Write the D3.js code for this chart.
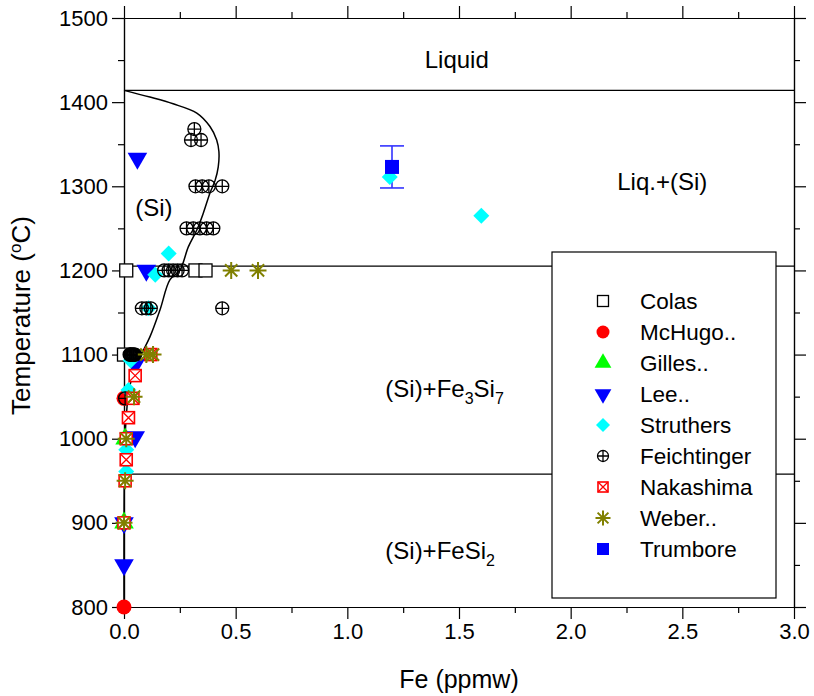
<!DOCTYPE html>
<html>
  <head>
    <meta charset="utf-8">
    <script type="text/javascript" src="https://d3js.org/d3.v7.min.js"></script>
    <title></title>
  </head>
  <style media="screen">
    body { margin: 0; background: #fff; }
    text { font-family: "Liberation Sans", Arial, sans-serif; fill: #000; }
  </style>
  <body>

    <script type="text/javascript">

    // Fe solubility in Si, measured points per source (Fe in ppmw, T in deg C)
    var colasFe = [0.01, 0.32, 0.365, 0.0];
    var colasT  = [1200, 1200, 1200, 1100];

    var mchugoFe = [0.0, 0.0];
    var mchugoT  = [800, 1048];

    var gillesFe = [0.0, 0.005];
    var gillesT  = [900, 1000];

    var leeFe = [0.06, 0.1, 0.05, 0.05, 0.0, 0.0];
    var leeT  = [1333, 1200, 1088, 1002, 900, 850];

    var struthersFe = [0.2, 0.14, 0.11, 0.03, 0.02, 0.01, 0.01, 1.19, 1.6];
    var struthersT  = [1220, 1195, 1155, 1093, 1058, 987, 961, 1311, 1265];

    var feichtFe = [0.315, 0.30, 0.345,
                    0.32, 0.35, 0.38, 0.44,
                    0.28, 0.31, 0.34, 0.37, 0.40,
                    0.18, 0.20, 0.22, 0.24, 0.26,
                    0.08, 0.10, 0.12, 0.44,
                    0.025, 0.028, 0.031, 0.034, 0.037, 0.04, 0.043, 0.046, 0.05,
                    0.005];
    var feichtT  = [1368, 1355, 1355,
                    1300, 1300, 1300, 1300,
                    1250, 1250, 1250, 1250, 1250,
                    1200, 1200, 1200, 1200, 1200,
                    1155, 1155, 1155, 1155,
                    1100, 1100, 1100, 1100, 1100, 1100, 1100, 1100, 1100,
                    1048];

    var nakashimaFe = [0.12, 0.05, 0.04, 0.02, 0.01, 0.01, 0.005, 0.0];
    var nakashimaT  = [1100, 1075, 1048, 1025, 1000, 975, 950, 900];

    var weberFe = [0.1, 0.13, 0.045, 0.48, 0.6, 0.01, 0.005, 0.0];
    var weberT  = [1100, 1100, 1050, 1200, 1200, 1000, 950, 900];

    var trumboreFe = [1.2];
    var trumboreT  = [1323];
    var trumboreErr = [25];

    // solidus (retrograde solubility) curve
    var solidusFe = [0.0, 0.116, 0.22, 0.326, 0.385, 0.415, 0.425, 0.422, 0.408, 0.385,
                     0.355, 0.326, 0.288, 0.25, 0.206, 0.161, 0.116, 0.072, 0.027, 0.009, 0.002, 0.0];
    var solidusT  = [1414, 1406, 1398, 1387, 1371, 1355, 1341, 1323, 1307, 1292,
                     1268, 1248, 1228, 1200, 1189, 1153, 1121, 1097, 1064, 1022, 963, 800];

    // invariant temperatures
    var isotherms = [1414, 1205, 958];

    var seriesNames = ["Colas", "McHugo..", "Gilles..", "Lee..", "Struthers",
                       "Feichtinger", "Nakashima", "Weber..", "Trumbore"];

    var xTicks = [0, 0.5, 1, 1.5, 2, 2.5, 3];
    var xMinor = [0.25, 0.75, 1.25, 1.75, 2.25, 2.75];
    var yTicks = [800, 900, 1000, 1100, 1200, 1300, 1400, 1500];
    var yMinor = [850, 950, 1050, 1150, 1250, 1350, 1450];

    var W = 814, H = 696;
    var margin = {top: 18, right: 20, bottom: 89, left: 124};
    var width = W - margin.left - margin.right,
        height = H - margin.top - margin.bottom;

    var x = d3.scaleLinear().domain([0, 3]).range([0, width]);
    var y = d3.scaleLinear().domain([800, 1500]).range([height, 0]);

    var svg = d3.select("body").append("svg")
        .attr("width", W)
        .attr("height", H)
      .append("g")
        .attr("transform", "translate(" + margin.left + "," + margin.top + ")");

    function zip(a, b) { return a.map(function(v, i) { return {fe: v, t: b[i]}; }); }

    // horizontal phase boundaries
    svg.selectAll(".iso")
        .data(isotherms)
      .enter().append("line")
        .attr("x1", 0).attr("x2", width)
        .attr("y1", function(d) { return y(d); })
        .attr("y2", function(d) { return y(d); })
        .attr("stroke", "#000")
        .attr("stroke-width", 1.2);

    var line = d3.line()
      .curve(d3.curveCatmullRom.alpha(0.5))
      .x(function(d) { return x(d.fe); })
      .y(function(d) { return y(d.t); });

    svg.append("path")
        .datum(zip(solidusFe, solidusT))
        .attr("d", line)
        .attr("fill", "none")
        .attr("stroke", "#000")
        .attr("stroke-width", 1.5);

    // axes: major + minor ticks on all four sides, pointing outward
    function addAxis(axisFn, scale, major, minor, transform, labels) {
      var gMinor = svg.append("g").attr("transform", transform)
        .call(axisFn(scale).tickValues(minor).tickSize(6).tickSizeOuter(0).tickFormat(""));
      var gMajor = svg.append("g").attr("transform", transform)
        .call(axisFn(scale).tickValues(major).tickSize(12).tickSizeOuter(0)
          .tickPadding(4)
          .tickFormat(labels ? labels : ""));
      [gMinor, gMajor].forEach(function(g) {
        g.selectAll("path, line").attr("stroke", "#000").attr("stroke-width", 1.2);
        g.selectAll("text").style("font-size", "22px").attr("fill", "#000");
      });
      return gMajor;
    }

    addAxis(d3.axisBottom, x, xTicks, xMinor, "translate(0," + height + ")", d3.format(".1f"));
    addAxis(d3.axisLeft, y, yTicks, yMinor, "translate(0,0)", d3.format("d"));
    addAxis(d3.axisTop, x, xTicks, xMinor, "translate(0,0)", null);
    addAxis(d3.axisRight, y, yTicks, yMinor, "translate(" + width + ",0)", null);

    // axis titles
    svg.append("text")
        .attr("x", x(1.5)).attr("y", height + 81)
        .attr("text-anchor", "middle")
        .style("font-size", "25px")
        .text("Fe (ppmw)");

    var yt = svg.append("text")
        .attr("transform", "translate(-94," + (height / 2 + 3) + ") rotate(-90)")
        .attr("text-anchor", "middle")
        .style("font-size", "26px");
    yt.append("tspan").text("Temperature (");
    yt.append("tspan").attr("dy", -9).style("font-size", "17px").text("o");
    yt.append("tspan").attr("dy", 9).text("C)");

    // phase field labels
    function label(xv, tv, parts, anchor) {
      var t = svg.append("text")
          .attr("x", x(xv)).attr("y", y(tv))
          .attr("text-anchor", anchor || "start")
          .style("font-size", "24px");
      parts.forEach(function(p) {
        var s = t.append("tspan").text(p[0]);
        if (p[1] === "sub") s.attr("dy", 7).style("font-size", "16px");
        if (p[1] === "back") s.attr("dy", -7);
      });
    }
    label(1.49, 1441, [["Liquid"]], "middle");
    label(2.41, 1296, [["Liq.+(Si)"]], "middle");
    label(0.05, 1265, [["(Si)"]]);
    label(1.17, 1050, [["(Si)+Fe"], ["3", "sub"], ["Si", "back"], ["7", "sub"]]);
    label(1.17, 857, [["(Si)+FeSi"], ["2", "sub"]]);

    // marker drawing
    function drawMarker(g, type, s) {
      var h = s / 2;
      switch (type) {
        case "openSquare":
          g.append("rect").attr("x", -h + 0.5).attr("y", -h + 0.5).attr("width", s - 1).attr("height", s - 1)
            .attr("fill", "#fff").attr("stroke", "#000").attr("stroke-width", 1.3);
          break;
        case "circle":
          g.append("circle").attr("r", h + 0.5).attr("fill", "#ff0000");
          break;
        case "triUp":
          g.append("path").attr("d", d3.symbol().type(d3.symbolTriangle).size(s * s * 0.85))
            .attr("fill", "#00ff00");
          break;
        case "triDown":
          g.append("path").attr("d", d3.symbol().type(d3.symbolTriangle).size(s * s * 0.85))
            .attr("transform", "rotate(180)").attr("fill", "#0000ff");
          break;
        case "diamond":
          g.append("path").attr("d", "M0," + (-h - 1) + "L" + (h + 1) + ",0L0," + (h + 1) + "L" + (-h - 1) + ",0Z")
            .attr("fill", "#00ffff");
          break;
        case "circlePlus":
          g.append("circle").attr("r", h - 0.5).attr("fill", "none").attr("stroke", "#000").attr("stroke-width", 1.3);
          g.append("path").attr("d", "M" + (-h + 0.5) + ",0H" + (h - 0.5) + "M0," + (-h + 0.5) + "V" + (h - 0.5))
            .attr("stroke", "#000").attr("stroke-width", 1.3);
          break;
        case "boxX":
          g.append("rect").attr("x", -h + 1).attr("y", -h + 1).attr("width", s - 2).attr("height", s - 2)
            .attr("fill", "#fff").attr("stroke", "#ff0000").attr("stroke-width", 1.6);
          g.append("path").attr("d", "M" + (-h + 1) + "," + (-h + 1) + "L" + (h - 1) + "," + (h - 1) +
                                  "M" + (h - 1) + "," + (-h + 1) + "L" + (-h + 1) + "," + (h - 1))
            .attr("stroke", "#ff0000").attr("stroke-width", 1.3);
          break;
        case "asterisk":
          var a = h + 1.5, b = (h + 1.5) * 0.72;
          g.append("path").attr("d", "M" + (-a) + ",0H" + a + "M0," + (-a) + "V" + a +
                                  "M" + (-b) + "," + (-b) + "L" + b + "," + b +
                                  "M" + b + "," + (-b) + "L" + (-b) + "," + b)
            .attr("stroke", "#808000").attr("stroke-width", 2);
          break;
        case "square":
          g.append("rect").attr("x", -h).attr("y", -h).attr("width", s).attr("height", s)
            .attr("fill", "#0000ff");
          break;
      }
    }

    var series = [
      {fe: colasFe, t: colasT, type: "openSquare"},
      {fe: mchugoFe, t: mchugoT, type: "circle"},
      {fe: gillesFe, t: gillesT, type: "triUp"},
      {fe: leeFe, t: leeT, type: "triDown"},
      {fe: struthersFe, t: struthersT, type: "diamond"},
      {fe: feichtFe, t: feichtT, type: "circlePlus"},
      {fe: nakashimaFe, t: nakashimaT, type: "boxX"},
      {fe: weberFe, t: weberT, type: "asterisk"},
      {fe: trumboreFe, t: trumboreT, type: "square"}
    ];

    // Trumbore error bar
    trumboreFe.forEach(function(v, i) {
      var eb = svg.append("g").attr("stroke", "#3333ff").attr("stroke-width", 1.6);
      eb.append("line").attr("x1", x(v)).attr("x2", x(v))
        .attr("y1", y(trumboreT[i] + trumboreErr[i])).attr("y2", y(trumboreT[i] - trumboreErr[i]));
      [trumboreT[i] + trumboreErr[i], trumboreT[i] - trumboreErr[i]].forEach(function(e) {
        eb.append("line").attr("x1", x(v) - 12).attr("x2", x(v) + 12)
          .attr("y1", y(e)).attr("y2", y(e));
      });
    });

    series.forEach(function(s) {
      zip(s.fe, s.t).forEach(function(d) {
        var g = svg.append("g").attr("transform", "translate(" + x(d.fe) + "," + y(d.t) + ")");
        drawMarker(g, s.type, 14);
      });
    });

    // legend
    var lg = svg.append("g").attr("transform", "translate(" + (552 - margin.left) + "," + (252 - margin.top) + ")");
    lg.append("rect")
        .attr("width", 224).attr("height", 346)
        .attr("fill", "#fff").attr("stroke", "#000").attr("stroke-width", 1.2);
    seriesNames.forEach(function(name, i) {
      var row = lg.append("g").attr("transform", "translate(0," + (49 + i * 31) + ")");
      drawMarker(row.append("g").attr("transform", "translate(51,0)"), series[i].type, 12);
      row.append("text").attr("x", 88).attr("y", 8)
        .style("font-size", "22.5px")
        .text(name);
    });

    </script>

  </body>
</html>
